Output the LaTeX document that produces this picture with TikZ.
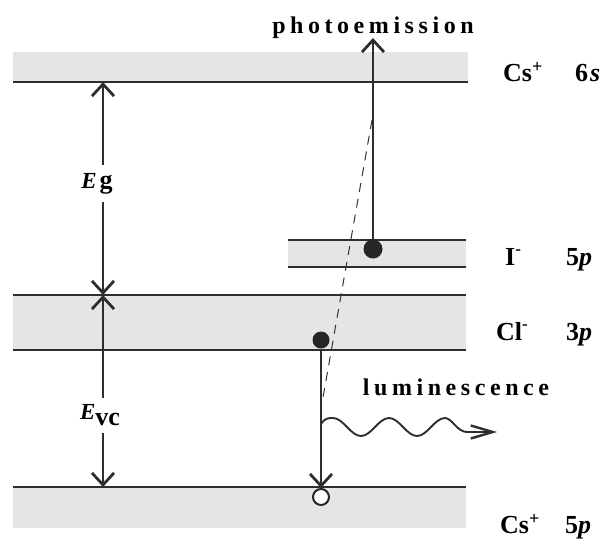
\documentclass[tikz,border=0pt]{standalone}
\usepackage{fontspec}
\setmainfont{Liberation Serif}
\usetikzlibrary{arrows.meta}
\tikzset{
  band/.style={fill=gray!20, draw=none},
  lvl/.style={line width=2.5pt, draw=black!82},
  arr/.style={line width=2.6pt, draw=black!82, -{Straight Barb[length=12pt,width=22pt,line width=2.8pt]}},
  wavearr/.style={line width=1.9pt, draw=black!82, -{Straight Barb[length=22pt,width=13pt,line width=2.4pt]}},
  dashline/.style={line width=1pt, draw=black!80, dash pattern=on 9pt off 7pt},
  lbl/.style={anchor=base west, inner sep=0pt, font=\fontsize{26}{26}\selectfont\bfseries},
  spaced/.style={anchor=base, inner sep=0pt, font=\fontsize{24}{24}\selectfont\bfseries\addfontfeature{LetterSpace=19}},
  fdot/.style={circle, fill=black!85, inner sep=0pt},
  hdot/.style={circle, draw=black!85, line width=2pt, fill=white, inner sep=0pt, minimum size=16pt},
  elbl/.style={inner sep=0pt, anchor=center}
}
\newcommand{\supplus}{\raisebox{9pt}{\fontsize{18}{18}\selectfont +}}
\newcommand{\supminus}{\raisebox{11pt}{\fontsize{17}{17}\selectfont -}}
\begin{document}
\begin{tikzpicture}[x=1pt,y=-1pt]
\useasboundingbox (0,0) rectangle (606,539);
% bands
\fill[band] (13,52) rectangle (468,82);
\fill[band] (288,240) rectangle (466,267);
\fill[band] (13,295) rectangle (466,350);
\fill[band] (13,487) rectangle (466,528);
% level lines
\draw[lvl] (13,82) -- (468,82);
\draw[lvl] (288,240) -- (466,240);
\draw[lvl] (288,267) -- (466,267);
\draw[lvl] (13,295) -- (466,295);
\draw[lvl] (13,350) -- (466,350);
\draw[lvl] (13,487) -- (466,487);
% coordinates
\coordinate (topEg) at (103,82);
\coordinate (midEg) at (103,295);
\coordinate (botEg) at (103,487);
\coordinate (pe) at (373,38);
\coordinate (dtop) at (372,120);
\coordinate (dbot) at (322,403);
\coordinate (ws) at (321,424);
\coordinate (we) at (497,432);
% energy labels
\node[elbl, minimum height=37pt] (Eg) at (97,183.5)
  {{\fontsize{23}{23}\selectfont\bfseries\itshape E}\hspace{3pt}{\fontsize{26}{26}\selectfont\bfseries g}};
\node[elbl, minimum height=35pt] (Evc) at (100,415.5)
  {{\fontsize{23}{23}\selectfont\bfseries\itshape E}\raisebox{-6pt}{\fontsize{26}{26}\selectfont\bfseries vc}};
\draw[arr] (Eg.north -| topEg) -- (topEg);
\draw[arr] (Eg.south -| topEg) -- (midEg);
\draw[arr] (Evc.north -| midEg) -- (midEg);
\draw[arr] (Evc.south -| midEg) -- (botEg);
% dots
\node[fdot, minimum size=19pt] (dotI) at (373,249) {};
\node[fdot, minimum size=17pt] (dotCl) at (321,340) {};
\node[hdot] (hole) at (321,497) {};
% transitions
\draw[dashline] (dtop) -- (dbot);
\draw[arr] (dotI) -- (pe);
\draw[arr] (dotCl) -- (hole.north);
\draw[wavearr] (ws) .. controls (325,418) and (328,418) .. (333,418)
  cos (347,427) sin (361,436) cos (375,427) sin (389,418) cos (403,427)
  sin (417,436) cos (431,427) sin (445,418)
  .. controls (452,418) and (457,432) .. (467,432) -- (we);
% texts
\node[spaced] (tphoto) at (373,33) {photoemission};
\node[spaced] (tlum) at (456,395) {luminescence};
\node[lbl] (cs6) at (503,81) {Cs\supplus};
\node[lbl] (s6) at (575,81) {6\hspace{2pt}\itshape s};
\node[lbl] (iion) at (505,265) {I\supminus};
\node[lbl] (p5) at (566,265) {5\itshape p};
\node[lbl] (clion) at (496,340) {Cl\supminus};
\node[lbl] (p3) at (566,340) {3\itshape p};
\node[lbl] (cs5) at (500,533) {Cs\supplus};
\node[lbl] (p5b) at (565,533) {5\itshape p};
\end{tikzpicture}
\end{document}
